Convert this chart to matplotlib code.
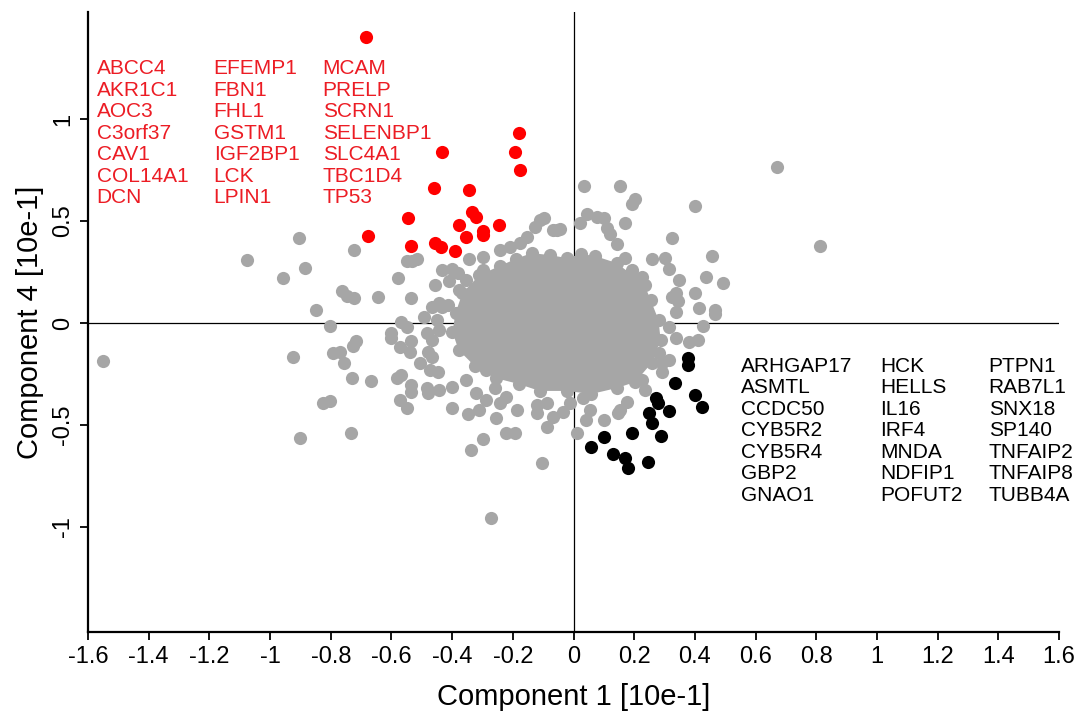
import matplotlib
matplotlib.use("Agg")
import matplotlib.pyplot as plt
from matplotlib.ticker import FixedLocator, FuncFormatter

plt.rcParams["font.family"] = ["Liberation Sans", "DejaVu Sans"]
plt.rcParams["axes.unicode_minus"] = False

# ---------------------------------------------------------------- data
# genes outside the dense centre (component 1, component 4)
gray_x = [-1.549, -1.077, -0.906, -0.886, -0.959, -0.850, -0.801, -0.923, -0.794, -0.771,
          -0.758, -0.824, -0.801, -0.903, -0.722, -0.764, -0.745, -0.725, -0.643, -0.550,
          -0.534, -0.517, -0.580, -0.537, -0.458, -0.494, -0.567, -0.550, -0.600, -0.600,
          -0.537, -0.718, -0.728, -0.573, -0.540, -0.481, -0.507, -0.474, -0.731, -0.669,
          -0.583, -0.570, -0.537, -0.537, -0.484, -0.481, -0.442, -0.399, -0.573, -0.550,
          -0.402, -0.349, -0.313, -0.257, -0.735, -0.297, -0.339, -0.432, -0.402, -0.382,
          -0.412, -0.343, -0.297, -0.468, -0.442, -0.415, -0.484, -0.448, -0.468, -0.465,
          -0.442, -0.451, -0.432, -0.376, -0.353, -0.300, -0.244, -0.211, -0.178, -0.155,
          -0.128, -0.109, -0.099, -0.069, -0.056, -0.043, 0.020, 0.033, 0.043, 0.076,
          0.102, 0.109, 0.119, 0.142, 0.152, 0.204, 0.194, 0.171, 0.399, 0.323,
          0.455, 0.260, 0.303, 0.316, 0.346, 0.438, 0.494, 0.399, 0.336, 0.343,
          0.339, 0.412, 0.465, 0.465, 0.425, 0.382, 0.409, 0.339, 0.316, 0.293,
          0.234, 0.152, 0.102, 0.053, 0.040, 0.030, 0.010, -0.105, -0.086, -0.069,
          -0.036, -0.013, -0.119, -0.086, -0.122, -0.185, -0.221, -0.244, -0.260, -0.287,
          -0.221, -0.194, -0.273, 0.672, 0.811, 0.168, 0.194, 0.227, 0.326, 0.316,
          0.283, 0.293, 0.227, 0.175, 0.145, -0.287, -0.320, -0.353]
gray_y = [-0.186, 0.309, 0.417, 0.270, 0.221, 0.064, -0.015, -0.167, -0.147, -0.142,
          -0.196, -0.392, -0.382, -0.564, 0.358, 0.157, 0.132, 0.123, 0.127, 0.304,
          0.304, 0.314, 0.221, 0.123, 0.186, 0.029, 0.005, -0.020, -0.049, -0.074,
          -0.088, -0.088, -0.113, -0.118, -0.142, -0.142, -0.196, -0.230, -0.270, -0.284,
          -0.270, -0.255, -0.304, -0.338, -0.319, -0.343, -0.328, -0.314, -0.377, -0.417,
          -0.417, -0.446, -0.426, -0.466, -0.539, -0.569, -0.623, 0.260, 0.265, 0.245,
          0.206, 0.314, 0.324, 0.078, 0.098, 0.088, -0.049, -0.240, -0.167, -0.083,
          -0.034, 0.015, 0.078, 0.162, 0.211, 0.260, 0.358, 0.373, 0.392, 0.422,
          0.471, 0.505, 0.515, 0.456, 0.456, 0.461, 0.490, 0.672, 0.534, 0.520,
          0.515, 0.466, 0.436, 0.387, 0.672, 0.608, 0.583, 0.490, 0.574, 0.417,
          0.328, 0.314, 0.319, 0.265, 0.211, 0.225, 0.196, 0.147, 0.147, 0.108,
          0.054, 0.074, 0.064, 0.044, -0.015, -0.093, -0.083, -0.074, -0.181, -0.240,
          -0.328, -0.426, -0.475, -0.426, -0.475, -0.368, -0.539, -0.686, -0.510, -0.461,
          -0.436, -0.392, -0.402, -0.392, -0.441, -0.426, -0.363, -0.392, -0.319, -0.230,
          -0.539, -0.539, -0.956, 0.765, 0.377, 0.319, 0.260, 0.225, 0.127, -0.020,
          -0.147, -0.196, -0.279, -0.387, -0.441, -0.377, -0.343, -0.279]

# outline of the dense centre, where the genes overlap completely
core_x = [-0.366, -0.310, -0.244, -0.191, -0.138, -0.079, -0.023, 0.026, 0.072, 0.142,
          0.194, 0.234, 0.254, 0.280, 0.287, 0.257, 0.204, 0.142, 0.059, -0.023,
          -0.112, -0.181, -0.257, -0.326, -0.379, -0.399, -0.389]
core_y = [0.147, 0.235, 0.279, 0.314, 0.343, 0.333, 0.319, 0.338, 0.328, 0.294,
          0.235, 0.186, 0.113, 0.015, -0.083, -0.196, -0.289, -0.319, -0.348, -0.333,
          -0.333, -0.299, -0.270, -0.211, -0.132, -0.044, 0.049]

# highlighted genes: high component 4
red_x = [-0.685, -0.432, -0.181, -0.194, -0.178, -0.461, -0.343, -0.547, -0.679, -0.537,
         -0.379, -0.353, -0.333, -0.320, -0.300, -0.297, -0.458, -0.438, -0.392, -0.247]
red_y = [1.402, 0.838, 0.931, 0.838, 0.750, 0.662, 0.652, 0.515, 0.426, 0.377,
         0.480, 0.422, 0.544, 0.520, 0.451, 0.431, 0.392, 0.373, 0.353, 0.480]

# highlighted genes: low component 4
black_x = [0.376, 0.376, 0.333, 0.399, 0.422, 0.273, 0.277, 0.313, 0.250, 0.260,
           0.287, 0.191, 0.099, 0.056, 0.129, 0.168, 0.178, 0.244]
black_y = [-0.172, -0.206, -0.294, -0.353, -0.412, -0.368, -0.392, -0.431, -0.441, -0.490,
           -0.554, -0.539, -0.559, -0.608, -0.642, -0.662, -0.711, -0.681]

red_genes = ["ABCC4", "AKR1C1", "AOC3", "C3orf37", "CAV1", "COL14A1", "DCN",
             "EFEMP1", "FBN1", "FHL1", "GSTM1", "IGF2BP1", "LCK", "LPIN1",
             "MCAM", "PRELP", "SCRN1", "SELENBP1", "SLC4A1", "TBC1D4", "TP53"]
black_genes = ["ARHGAP17", "ASMTL", "CCDC50", "CYB5R2", "CYB5R4", "GBP2", "GNAO1",
               "HCK", "HELLS", "IL16", "IRF4", "MNDA", "NDFIP1", "POFUT2",
               "PTPN1", "RAB7L1", "SNX18", "SP140", "TNFAIP2", "TNFAIP8", "TUBB4A"]

x_ticks = [-1.6, -1.4, -1.2, -1.0, -0.8, -0.6, -0.4, -0.2, 0.0,
           0.2, 0.4, 0.6, 0.8, 1.0, 1.2, 1.4, 1.6]
y_ticks = [-1.0, -0.5, 0.0, 0.5, 1.0]

# ---------------------------------------------------------------- style
GRAY = "#A6A6A6"
RED = "#FF0000"
RED_TEXT = "#EC1C24"
DOT = 90

fig = plt.figure(figsize=(10.84, 7.18), dpi=100)
ax = fig.add_axes([0.0812, 0.1198, 0.8958, 0.8635])

ax.axhline(0, color="black", lw=0.9, zorder=1)
ax.axvline(0, color="black", lw=0.9, zorder=1)

ax.fill(core_x, core_y, color=GRAY, lw=0, zorder=2)
ax.scatter(core_x, core_y, s=DOT, color=GRAY, linewidths=0, zorder=2)
ax.scatter(gray_x, gray_y, s=DOT, color=GRAY, linewidths=0, zorder=2)
ax.scatter(red_x, red_y, s=DOT, color=RED, linewidths=0, zorder=3)
ax.scatter(black_x, black_y, s=DOT, color="black", linewidths=0, zorder=3)

# gene name columns, seven names per column
def gene_columns(names, col_x, top_y, step, color):
    for i, name in enumerate(names):
        c, r = divmod(i, 7)
        ax.text(col_x[c], top_y - r * step, name, color=color,
                fontsize=15, ha="left", va="baseline", zorder=4)

gene_columns(red_genes, [-1.572, -1.186, -0.827], 1.2206, 0.1054, RED_TEXT)
gene_columns(black_genes, [0.553, 1.011, 1.368], -0.2402, 0.1054, "black")

ax.set_xlim(-1.6, 1.6)
ax.set_ylim(-1.515, 1.525)

for side in ("top", "right"):
    ax.spines[side].set_visible(False)
for side in ("left", "bottom"):
    ax.spines[side].set_linewidth(1.6)

fmt = FuncFormatter(lambda v, pos: "%g" % round(v, 2))
ax.xaxis.set_major_locator(FixedLocator(x_ticks))
ax.yaxis.set_major_locator(FixedLocator(y_ticks))
ax.xaxis.set_major_formatter(fmt)
ax.yaxis.set_major_formatter(fmt)
ax.tick_params(direction="out", length=6, width=1.3, labelsize=17, pad=4)
plt.setp(ax.get_yticklabels(), rotation=90, va="center", ha="right")

ax.set_xlabel("Component 1 [10e-1]", fontsize=21, labelpad=11)
ax.set_ylabel("Component 4 [10e-1]", fontsize=21, labelpad=6)

fig.savefig("out.png", dpi=100)
